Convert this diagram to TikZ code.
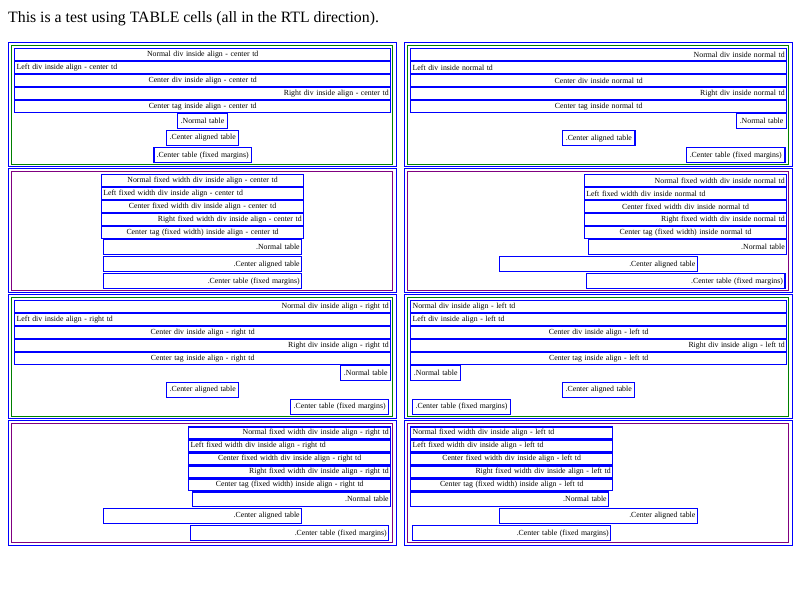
\documentclass[tikz,border=0pt]{standalone}
\usepackage{fontspec}
\setmainfont{Liberation Serif}
\usepackage{tikz}
\usepackage{xcolor}
\definecolor{htmlgreen}{RGB}{0,128,0}
\definecolor{htmlpurple}{RGB}{128,0,128}

\tikzset{
  inbox/.style={draw=blue, line width=1.4pt, inner xsep=2pt, inner ysep=0pt, anchor=north west, font=\fontsize{7.8}{8}\selectfont},
  cellline/.style={draw=blue, line width=1pt},
  greendiv/.style={draw=htmlgreen, line width=1pt},
  purplediv/.style={draw=htmlpurple, line width=1pt}
}

% one blue box with its text: name, x1, y1, x2, y2, align, text
\newcommand{\tbox}[7]{%
  \pgfmathsetmacro{\boxw}{(#4)-(#2)-1.4-4}%
  \pgfmathsetmacro{\boxh}{(#5)-(#3)-1.4}%
  \node[inbox, text width=\boxw pt, minimum height=\boxh pt, align=#6] (#1) at (#2+0.7,#3+0.7) {#7};}

% five div rows: name, x1, x2, ytop, first align, div words, tag words, td
\newcommand{\divstack}[8]{%
  \tbox{#1a}{#2}{#4}{#3}{#4+13}{#5}{Normal #6 inside #8}
  \tbox{#1b}{#2}{#4+13}{#3}{#4+26}{left}{Left #6 inside #8}
  \tbox{#1c}{#2}{#4+26}{#3}{#4+39}{center}{Center #6 inside #8}
  \tbox{#1d}{#2}{#4+39}{#3}{#4+52}{right}{Right #6 inside #8}
  \tbox{#1e}{#2}{#4+52}{#3}{#4+65}{center}{Center #7 inside #8}}

\begin{document}
\begin{tikzpicture}[x=1pt, y=-1pt]
    % Cellules de tableau en sens RTL
    \fill[white] (0,0) rectangle (800,600);
    \useasboundingbox (0,0) rectangle (800,600);
    \node[anchor=base west, inner sep=0pt, font=\fontsize{15.8}{18}\selectfont] (title) at (8,22) {This is a test using TABLE cells (all in the RTL direction).};

    \foreach \xa in {8,404}
      \foreach \ya/\yb in {42/166.5, 168/292.5, 294/418.5, 420/545}
        \draw[cellline] (\xa,\ya) rectangle (\xa+388,\yb);
    \draw[greendiv] (11.5,45.5) rectangle (392.5,164.5);
    \draw[greendiv] (407.5,45.5) rectangle (788.5,164.5);
    \draw[purplediv] (11.5,171) rectangle (392.5,290.5);
    \draw[purplediv] (407.5,171) rectangle (788.5,290.5);
    \draw[greendiv] (11.5,297.5) rectangle (392.5,416);
    \draw[greendiv] (407.5,297.5) rectangle (788.5,416);
    \draw[purplediv] (11.5,423.3) rectangle (392.5,542.5);
    \draw[purplediv] (407.5,423.3) rectangle (788.5,542.5);

    \divstack{a}{13.3}{390.7}{47.3}{center}{div}{tag}{align - center td}
    \tbox{an}{176.3}{112.3}{227.3}{128.3}{center}{.Normal table}
    \tbox{ag}{165.3}{129}{238.7}{145.7}{center}{.Center aligned table}
    \tbox{am}{152.7}{146.3}{251.3}{162.7}{center}{.Center table (fixed margins)}

    \divstack{b}{409.3}{786.7}{47.3}{right}{div}{tag}{normal td}
    \tbox{bn}{735}{112.3}{786.7}{128.3}{center}{.Normal table}
    \tbox{bg}{561.3}{129.3}{635}{145.7}{center}{.Center aligned table}
    \tbox{bm}{685}{146.3}{785}{162.7}{center}{.Center table (fixed margins)}

    \divstack{c}{100}{303.7}{173.3}{center}{fixed width div}{tag (fixed width)}{align - center td}
    \tbox{cn}{102.3}{238.3}{301.7}{254.3}{right}{.Normal table}
    \tbox{cg}{102.3}{255.3}{301.7}{271.7}{right}{.Center aligned table}
    \tbox{cm}{102.3}{272.3}{301.7}{288.7}{right}{.Center table (fixed margins)}

    \divstack{d}{583}{786.7}{173.3}{right}{fixed width div}{tag (fixed width)}{normal td}
    \tbox{dn}{587.3}{238.3}{786.7}{254.3}{right}{.Normal table}
    \tbox{dg}{498.3}{255.3}{697.3}{271.7}{right}{.Center aligned table}
    \tbox{dm}{585.3}{272.3}{785}{288.7}{right}{.Center table (fixed margins)}

    \divstack{e}{13.3}{390.7}{299.3}{right}{div}{tag}{align - right td}
    \tbox{en}{339.3}{364.3}{390.7}{380.3}{center}{.Normal table}
    \tbox{eg}{165.3}{381}{238.7}{397.3}{center}{.Center aligned table}
    \tbox{em}{289.3}{398.3}{388.7}{414.3}{center}{.Center table (fixed margins)}

    \divstack{f}{409.3}{786.7}{299.3}{left}{div}{tag}{align - left td}
    \tbox{fn}{409.3}{364.3}{460.7}{380.3}{center}{.Normal table}
    \tbox{fg}{561.3}{381}{634.7}{397.3}{center}{.Center aligned table}
    \tbox{fm}{411}{398.3}{510.7}{414.3}{center}{.Center table (fixed margins)}

    \divstack{g}{187.3}{390.7}{425.7}{right}{fixed width div}{tag (fixed width)}{align - right td}
    \tbox{gn}{191.3}{490.7}{390.7}{506.3}{right}{.Normal table}
    \tbox{gg}{102.3}{507.3}{301.7}{523.3}{right}{.Center aligned table}
    \tbox{gm}{189.3}{524.3}{388.7}{540.7}{right}{.Center table (fixed margins)}

    \divstack{h}{409.3}{612.7}{425.7}{left}{fixed width div}{tag (fixed width)}{align - left td}
    \tbox{hn}{409.3}{490.7}{608.7}{506.3}{right}{.Normal table}
    \tbox{hg}{498.3}{507.3}{697.3}{523.3}{right}{.Center aligned table}
    \tbox{hm}{411.3}{524.3}{610.7}{540.7}{right}{.Center table (fixed margins)}
\end{tikzpicture}
\end{document}
